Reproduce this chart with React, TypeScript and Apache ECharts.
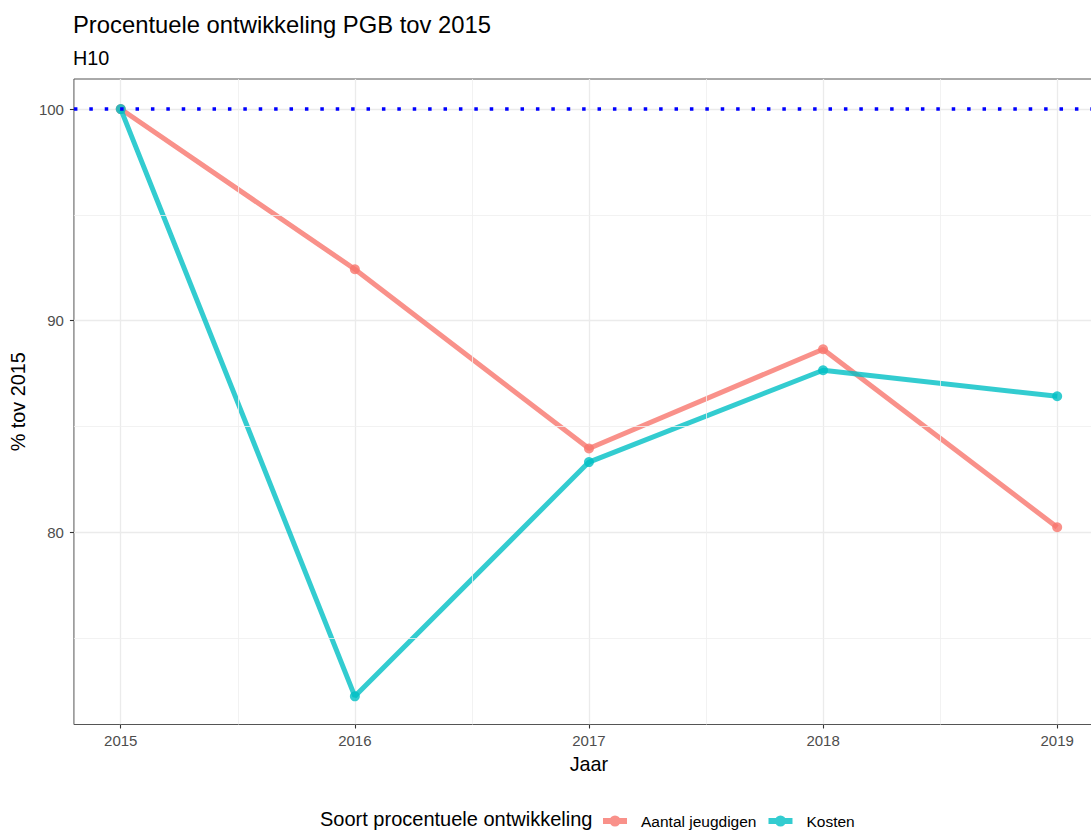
import React, { useEffect, useRef } from "react";
import * as echarts from "echarts";

const years = [2015, 2016, 2017, 2018, 2019];
const aantalJeugdigen = [100, 92.43, 83.96, 88.65, 80.24];
const kosten = [100, 72.25, 83.32, 87.66, 86.43];
const yTicks = [80, 90, 100];
const yMinorTicks = [75, 85, 95];
const xMinorTicks = [2015.5, 2016.5, 2017.5, 2018.5];
const referenceLevel = 100;
const seriesNames = ["Aantal jeugdigen", "Kosten"];
const seriesColors = ["rgba(248,118,109,0.8)", "rgba(0,191,196,0.8)"];

const FONT = '"Liberation Sans", Arial, Helvetica, sans-serif';
const LEGEND_ICON =
  "path://M0,2.5L24,2.5L24,8.5L0,8.5Z M6.5,5.5a5.5,5.5 0 1,1 11,0a5.5,5.5 0 1,1 -11,0Z";

export default function App() {
  const ref = useRef<HTMLDivElement>(null);
  useEffect(() => {
    if (!ref.current) return;
    const chart = echarts.init(ref.current, undefined, { renderer: "svg" });
    const seriesData = [aantalJeugdigen, kosten];
    const option: any = {
      animation: false,
      backgroundColor: "#ffffff",
      textStyle: { fontFamily: FONT },
      title: [
        {
          text: "Procentuele ontwikkeling PGB tov 2015",
          left: 73,
          top: 12,
          padding: 0,
          textStyle: { fontFamily: FONT, fontSize: 23.8, fontWeight: "normal", color: "#000" },
        },
        {
          text: "H10",
          left: 73,
          top: 48,
          padding: 0,
          textStyle: { fontFamily: FONT, fontSize: 19.8, fontWeight: "normal", color: "#000" },
        },
      ],
      grid: {
        left: 73,
        right: 0,
        top: 79,
        bottom: 105.5,
        show: true,
        borderColor: "#555",
        borderWidth: 1,
        backgroundColor: "transparent",
        containLabel: false,
      },
      xAxis: {
        type: "value",
        min: 2014.8,
        max: 2019.2,
        name: "Jaar",
        nameLocation: "middle",
        nameGap: 29,
        nameTextStyle: { fontFamily: FONT, fontSize: 19.8, color: "#000" },
        axisLine: { show: false },
        axisTick: { show: true, length: 4, customValues: years, lineStyle: { color: "#333", width: 1.1 } },
        axisLabel: {
          customValues: years,
          formatter: (v: number) => String(v),
          margin: 8,
          fontFamily: FONT,
          fontSize: 15,
          color: "#4D4D4D",
        },
        splitLine: { show: true, lineStyle: { color: "#EBEBEB", width: 1.3 } },
      },
      yAxis: {
        type: "value",
        min: 70.92,
        max: 101.42,
        splitNumber: 3,
        name: "% tov 2015",
        nameLocation: "middle",
        nameRotate: 90,
        nameGap: 42,
        nameTextStyle: { fontFamily: FONT, fontSize: 19.8, color: "#000" },
        axisLine: { show: false },
        axisTick: { show: true, length: 4, customValues: yTicks, lineStyle: { color: "#333", width: 1.1 } },
        axisLabel: {
          customValues: yTicks,
          formatter: (v: number) => String(v),
          margin: 10,
          fontFamily: FONT,
          fontSize: 15,
          color: "#4D4D4D",
        },
        splitLine: { show: true, lineStyle: { color: "#EBEBEB", width: 1.3 } },
      },
      legend: {
        left: 603,
        top: 813,
        padding: 0,
        icon: LEGEND_ICON,
        itemWidth: 24,
        itemHeight: 11,
        itemGap: 12,
        selectedMode: false,
        data: seriesNames,
        itemStyle: { borderWidth: 0 },
        textStyle: { fontFamily: FONT, fontSize: 15.5, color: "#000", padding: [0, 0, 0, 9] },
      },
      graphic: [
        {
          type: "text",
          left: 320,
          top: 809,
          silent: true,
          style: {
            text: "Soort procentuele ontwikkeling",
            font: `20px ${FONT}`,
            fill: "#000",
          },
        },
      ],
      series: [
        {
          name: "__minorgrid",
          type: "line",
          data: [],
          silent: true,
          z: 1,
          markLine: {
            silent: true,
            symbol: ["none", "none"],
            label: { show: false },
            emphasis: { disabled: true },
            lineStyle: { color: "#EFEFEF", width: 0.8, type: "solid" },
            data: [
              ...yMinorTicks.map((v) => ({ yAxis: v })),
              ...xMinorTicks.map((v) => ({ xAxis: v })),
            ],
          },
        },
        {
          name: "__reference",
          type: "line",
          data: [],
          silent: true,
          z: 2,
          markLine: {
            silent: true,
            symbol: ["none", "none"],
            label: { show: false },
            emphasis: { disabled: true },
            lineStyle: { color: "#0000FF", width: 3.5, type: [3.5, 11.9], cap: "butt" },
            data: [{ yAxis: referenceLevel }],
          },
        },
        ...seriesNames.map((name, i) => ({
          name,
          type: "line",
          z: 3 + i,
          data: years.map((y, j) => [y, seriesData[i][j]]),
          symbol: "circle",
          symbolSize: 10,
          showSymbol: true,
          lineStyle: { width: 5, color: seriesColors[i] },
          itemStyle: { color: seriesColors[i] },
          emphasis: { disabled: true },
        })),
      ],
    };
    chart.setOption(option);
    return () => chart.dispose();
  }, []);
  return (
    <div style={{ position: "absolute", left: 0, top: 0, width: 1091, height: 830, overflow: "hidden" }}>
      <div ref={ref} style={{ position: "absolute", left: 0, top: 0, width: 1104, height: 830 }} />
    </div>
  );
}
